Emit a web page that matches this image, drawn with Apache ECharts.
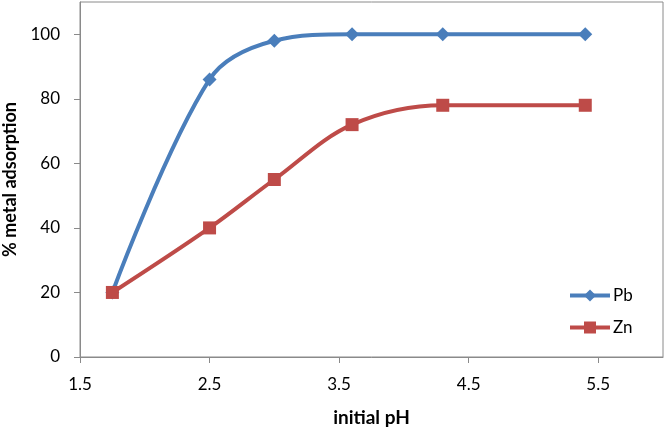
<!DOCTYPE html>
<html><head><meta charset="utf-8">
<script src="https://cdn.jsdelivr.net/npm/echarts@6/dist/echarts.min.js"></script>
<style>html,body{margin:0;padding:0;background:#fff}#c{width:666px;height:428px}</style>
</head><body><div id="c"></div>
<script>
var pH = [1.75, 2.5, 3.0, 3.6, 4.3, 5.4];
var pb = [20, 86, 98, 100, 100, 100];
var zn = [20, 40, 55, 72, 78, 78];
var xTicks = [1.5, 2.5, 3.5, 4.5, 5.5];
var yTicks = [0, 20, 40, 60, 80, 100];

function pairs(xs, ys){ return xs.map(function(x,i){ return [x, ys[i]]; }); }
var F = 'Lato, "Open Sans", sans-serif';
var chart = echarts.init(document.getElementById('c'));
chart.setOption({
  animation: false,
  grid: {left: 80, right: 3, top: 2, bottom: 71, show: true, borderColor: '#8a8a8a', borderWidth: 1,
         containLabel: false, outerBoundsMode: 'none'},
  legend: {
    orient: 'vertical', left: 563, top: 282, itemGap: 15, itemWidth: 40, itemHeight: 15,
    textStyle: {fontFamily: F, fontSize: 17, color: '#000', padding: [0,0,0,-2]},
    lineStyle: {width: 4},
    data: ['Pb', 'Zn']
  },
  xAxis: {
    type: 'value', min: 1.5, max: 6, interval: 1,
    name: 'initial pH', nameLocation: 'middle', nameGap: 51,
    nameTextStyle: {fontFamily: F, fontSize: 19, fontWeight: 'bold', color: '#000'},
    axisLine: {show: true, lineStyle: {color: '#8a8a8a'}},
    axisTick: {show: true, length: 6, lineStyle: {color: '#8a8a8a'}, customValues: xTicks},
    axisLabel: {fontFamily: F, fontSize: 17, color: '#000', margin: 19, customValues: xTicks},
    splitLine: {show: false}
  },
  yAxis: {
    type: 'value', min: 0, max: 110, interval: 20,
    name: '% metal adsorption', nameLocation: 'middle', nameGap: 60,
    nameTextStyle: {fontFamily: F, fontSize: 18, fontWeight: 'bold', color: '#000'},
    axisLine: {show: true, lineStyle: {color: '#8a8a8a'}},
    axisTick: {show: true, length: 6, lineStyle: {color: '#8a8a8a'}, customValues: yTicks},
    axisLabel: {fontFamily: F, fontSize: 17, color: '#000', margin: 20, customValues: yTicks},
    splitLine: {show: false}
  },
  series: [
    {name: 'Pb', type: 'line', data: pairs(pH, pb), smooth: 0.35,
     symbol: 'diamond', symbolSize: 14,
     lineStyle: {color: '#4a7ebb', width: 4}, itemStyle: {color: '#4a7ebb'}, z: 2},
    {name: 'Zn', type: 'line', data: pairs(pH, zn), smooth: 0.35,
     symbol: 'rect', symbolSize: 13,
     lineStyle: {color: '#be4b48', width: 4}, itemStyle: {color: '#be4b48'}, z: 3}
  ]
});
</script></body></html>
